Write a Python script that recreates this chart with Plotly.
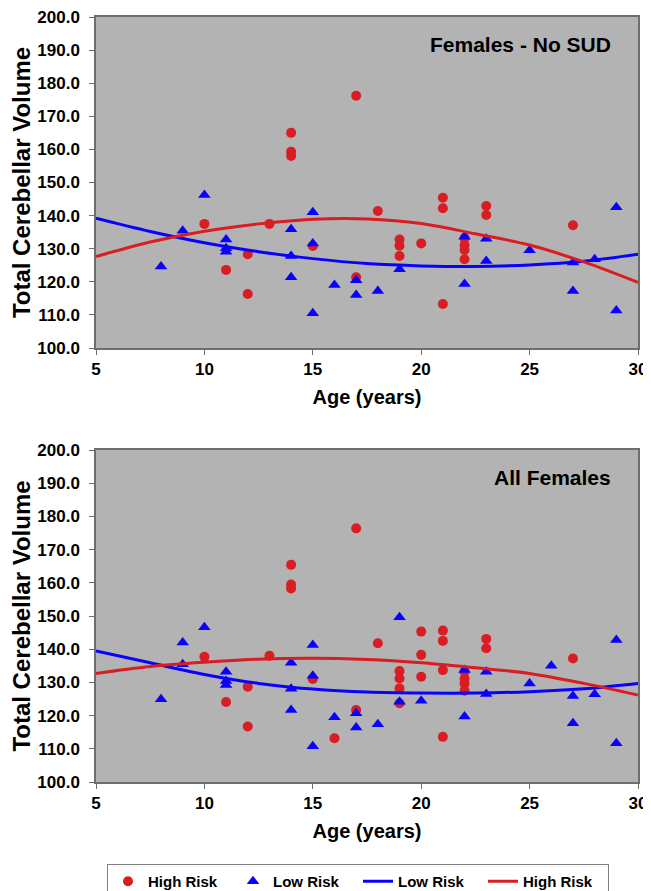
import plotly.graph_objects as go
from plotly.subplots import make_subplots

# ---------------- Data ----------------
# Top panel: Females - No SUD
top_high_age = [10, 11, 12, 12, 13, 14, 14, 14, 15, 17, 17, 18, 19, 19, 19, 20,
                21, 21, 21, 22, 22, 22, 22, 23, 23, 27]
top_high_vol = [137.5, 123.6, 128.3, 116.3, 137.5, 165.0, 159.3, 158.0, 130.8, 176.2,
                121.4, 141.4, 132.8, 130.9, 127.8, 131.6, 145.4, 142.2, 113.3, 133.2,
                131.1, 129.6, 126.8, 142.9, 140.2, 137.1]
top_low_age = [8, 9, 10, 11, 11, 11, 14, 14, 14, 15, 15, 15, 16, 17, 17, 18, 19,
               22, 22, 23, 23, 25, 27, 27, 28, 29, 29]
top_low_vol = [124.6, 135.4, 146.2, 132.8, 130.1, 129.1, 135.9, 127.8, 121.4, 141.0,
               131.6, 110.5, 119.0, 120.5, 116.0, 117.2, 123.8, 133.6, 119.3, 133.0,
               126.3, 129.5, 125.8, 117.2, 126.8, 142.5, 111.3]

# Bottom panel: All Females
bot_high_age = [10, 11, 12, 12, 13, 14, 14, 14, 15, 16, 17, 17, 18, 19, 19, 19, 19,
                20, 20, 20, 21, 21, 21, 21, 22, 22, 22, 22, 23, 23, 27]
bot_high_vol = [137.7, 124.1, 128.7, 116.7, 138.0, 165.4, 159.5, 158.3, 131.0, 113.2,
                176.4, 121.7, 141.8, 133.4, 131.2, 128.2, 123.7, 145.3, 138.3, 131.7,
                145.6, 142.5, 133.7, 113.6, 133.2, 131.1, 129.6, 127.5, 143.1, 140.3,
                137.2]
bot_low_age = [8, 9, 9, 10, 11, 11, 11, 14, 14, 14, 15, 15, 15, 16, 17, 17, 18, 19,
               19, 20, 22, 22, 23, 23, 25, 26, 27, 27, 28, 29, 29]
bot_low_vol = [124.9, 142.0, 135.5, 146.6, 133.2, 130.4, 129.2, 135.9, 128.1, 121.7,
               141.3, 132.0, 110.8, 119.5, 120.7, 116.4, 117.4, 149.6, 124.2, 124.5,
               133.7, 119.7, 133.2, 126.5, 129.7, 135.0, 125.9, 117.7, 126.4, 142.8,
               111.7]

# Trend-line values
fit_age = [5, 7.5, 10, 12.5, 15, 17.5, 20, 22.5, 25, 27.5, 30]
top_fit_low = [139.2, 135.2, 131.8, 129.1, 127.0, 125.5, 124.8, 124.6, 125.1, 126.2, 128.3]
top_fit_high = [127.6, 132.0, 135.3, 137.5, 138.9, 139.0, 137.6, 134.5, 131.1, 126.0, 119.8]
bot_fit_low = [139.5, 135.9, 132.4, 129.7, 128.0, 127.1, 126.8, 126.8, 127.2, 128.1, 129.7]
bot_fit_high = [132.7, 134.8, 136.1, 137.0, 137.3, 136.9, 135.9, 134.4, 132.7, 129.7, 126.2]

panel_titles = ["Females - No SUD", "All Females"]
y_ticks = [100 + 10 * i for i in range(11)]
x_ticks = [5, 10, 15, 20, 25, 30]

# ---------------- Style ----------------
RED = "#d81e22"
BLUE = "#0a00ff"
FONT = "Liberation Sans, Arial, sans-serif"

OFF = 8  # page body margin
W, H = 651 - OFF, 891 - OFF
ML, MR, MT, MB = 96 - OFF, 13, 17 - OFF, 109
PW = W - ML - MR
PH = H - MT - MB


def py(pix):
    # window pixel -> paper y
    return (891 - MB - pix) / PH


def px(pix):
    return (pix - 96) / PW


fig = make_subplots(rows=2, cols=1)

panels = [
    (top_high_age, top_high_vol, top_low_age, top_low_vol, top_fit_low, top_fit_high),
    (bot_high_age, bot_high_vol, bot_low_age, bot_low_vol, bot_fit_low, bot_fit_high),
]

for i, (ha, hv, la, lv, fl, fh) in enumerate(panels):
    r = i + 1
    show = i == 0
    fig.add_trace(go.Scatter(x=ha, y=hv, mode="markers", name="High Risk",
                             marker=dict(symbol="circle", size=10, color=RED),
                             showlegend=show), row=r, col=1)
    fig.add_trace(go.Scatter(x=la, y=lv, mode="markers", name="Low Risk",
                             marker=dict(symbol="triangle-up", size=11, color=BLUE),
                             showlegend=show), row=r, col=1)
    fig.add_trace(go.Scatter(x=fit_age, y=fl, mode="lines", name="Low Risk",
                             line=dict(color=BLUE, width=3, shape="spline", smoothing=1),
                             showlegend=show), row=r, col=1)
    fig.add_trace(go.Scatter(x=fit_age, y=fh, mode="lines", name="High Risk",
                             line=dict(color=RED, width=3, shape="spline", smoothing=1),
                             showlegend=show), row=r, col=1)

axis_common = dict(showgrid=False, zeroline=False, showline=True, mirror=True,
                   linecolor="#6e6e6e", linewidth=1.5, ticks="outside", ticklen=5,
                   tickcolor="#6e6e6e", ticklabeloverflow="allow",
                   tickfont=dict(family=FONT, size=17, color="black", weight="bold"))

domains = [[py(348), 1.0], [0.0, py(450)]]
for i in range(2):
    r = i + 1
    fig.update_xaxes(range=[5, 30], tickvals=x_ticks, **axis_common,
                     title=dict(text="Age (years)", standoff=12,
                                font=dict(family=FONT, size=20, color="black", weight="bold")),
                     row=r, col=1)
    fig.update_yaxes(range=[100, 200], tickvals=y_ticks, tickformat=".1f", **axis_common,
                     ticklabelstandoff=6,
                     domain=domains[i],
                     title=dict(text="Total Cerebellar Volume", standoff=2,
                                font=dict(family=FONT, size=24, color="black", weight="bold")),
                     row=r, col=1)

fig.update_xaxes(domain=[0, 1])

ann_y = [py(45), py(477)]
for i, t in enumerate(panel_titles):
    fig.add_annotation(text=t, xref="paper", yref="paper", x=px(613),
                       y=ann_y[i], xanchor="right", yanchor="middle", showarrow=False,
                       font=dict(family=FONT, size=21, color="black", weight="bold"))

fig.update_layout(
    width=W, height=H,
    margin=dict(l=ML, r=MR, t=MT, b=MB, autoexpand=False),
    paper_bgcolor="white",
    plot_bgcolor="#b3b3b3",
    font=dict(family=FONT, color="black"),
    legend=dict(orientation="h", x=px(107), y=py(864),
                xanchor="left", yanchor="top",
                bordercolor="#808080", borderwidth=1, bgcolor="white",
                entrywidth=80, entrywidthmode="pixels", traceorder="normal",
                font=dict(family=FONT, size=15, color="black", weight="bold")),
)

fig.write_html("out.html")
